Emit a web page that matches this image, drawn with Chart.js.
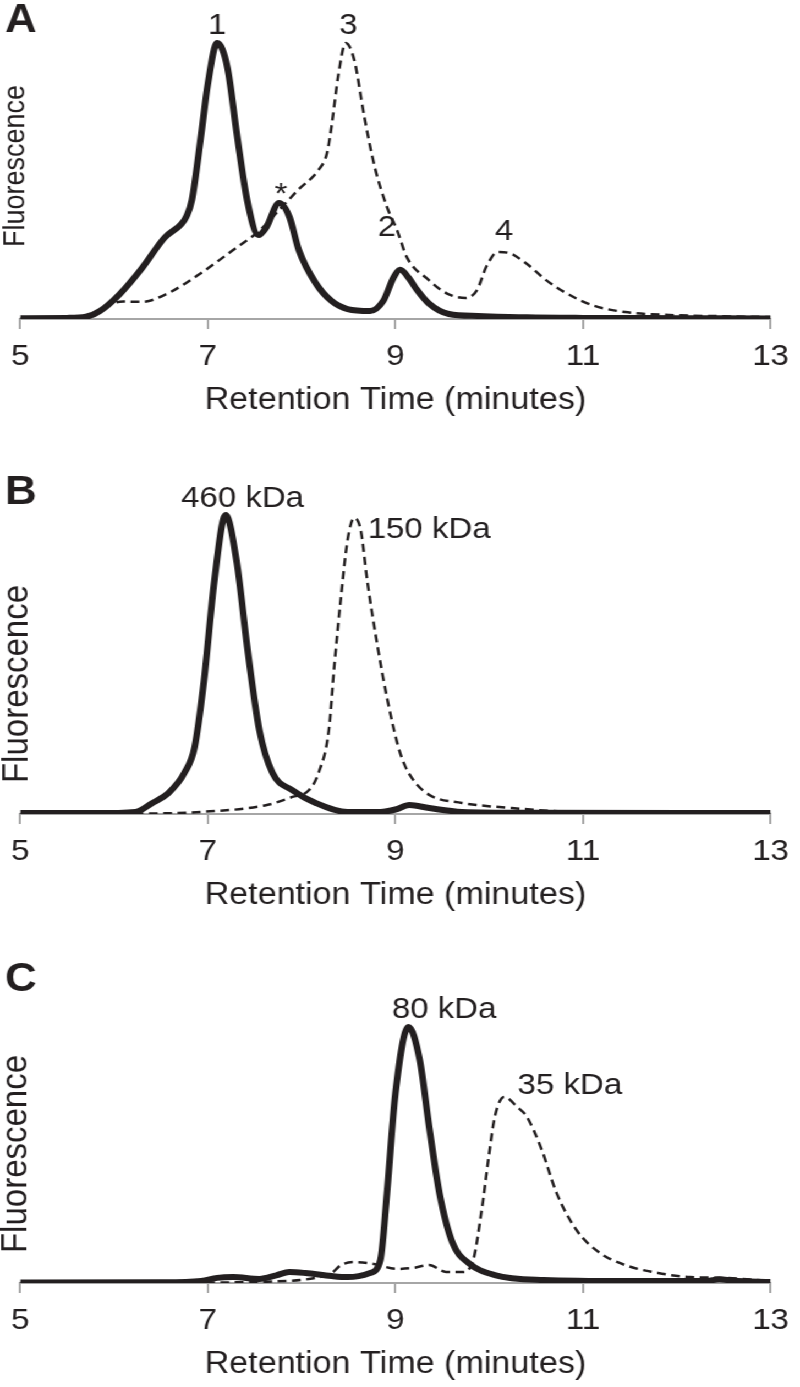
<!DOCTYPE html>
<html>
<head>
<meta charset="utf-8">
<script src="https://cdn.jsdelivr.net/npm/chart.js@4.4.1/dist/chart.umd.min.js"></script>
<style>
html, body { margin: 0; padding: 0; background: #fff; }
#wrap { position: relative; width: 727px; height: 1387px; transform: scaleX(1.1004); transform-origin: 0 0; }
canvas { position: absolute; left: 0; }
</style>
</head>
<body>
<div id="wrap">
  <canvas id="chartA" width="727" height="419" style="top:0px"></canvas>
  <canvas id="chartB" width="727" height="474" style="top:440px"></canvas>
  <canvas id="chartC" width="727" height="463" style="top:920px"></canvas>
</div>
<script>
// tick labels of the retention time axis
const timeTicks = [5, 7, 9, 11, 13];

// Panel A
const timeA_solid = [5.0, 5.5, 5.7, 5.85, 6.06, 6.30, 6.54, 6.72, 6.77, 6.83, 6.93, 7.0, 7.10, 7.21, 7.31, 7.42, 7.54, 7.62, 7.76, 7.87, 7.97, 8.15, 8.32, 8.49, 8.73, 8.87, 8.98, 9.05, 9.14, 9.22, 9.36, 9.57, 9.88, 10.4, 11.0, 12.0, 13.0];
const solidA = [0.3, 0.4, 0.8, 2.9, 9, 18.5, 29.5, 34.5, 37, 43, 67, 85, 100, 91, 67, 43, 30.4, 33, 42, 37, 25, 13, 6.5, 3.6, 2.9, 6.5, 15, 17.8, 15, 11, 5.5, 1.8, 1.1, 0.6, 0.4, 0.3, 0.2];
const timeA_dash = [5.0, 5.5, 5.7, 5.85, 5.95, 6.1, 6.3, 6.58, 6.93, 7.27, 7.55, 7.76, 7.97, 8.18, 8.27, 8.32, 8.39, 8.47, 8.56, 8.67, 8.78, 8.91, 9.02, 9.12, 9.36, 9.54, 9.75, 9.87, 9.97, 10.09, 10.2, 10.4, 10.61, 10.82, 11.1, 11.45, 11.97, 12.5, 13.0];
const dashA = [0.2, 0.4, 1.0, 3, 5.2, 6.3, 6.2, 9.4, 16.7, 25, 32, 39.5, 47, 54, 60, 70, 88, 100, 94, 73, 55, 40.6, 32, 22.5, 14, 9.4, 7.6, 10.5, 19, 24.3, 24, 20, 14, 9.4, 5, 2.5, 1.4, 1, 0.7];
const peakTextA = ['1', '3', '*', '2', '4'];
const peakTimeA = [7.10, 8.50, 7.78, 8.91, 10.16];
const peakValA = [106.3, 106.3, 45, 33, 31.5];

// Panel B
const timeB_solid = [5.0, 5.8, 6.23, 6.41, 6.58, 6.75, 6.86, 6.96, 7.07, 7.19, 7.31, 7.42, 7.55, 7.69, 7.90, 8.15, 8.49, 8.84, 9.0, 9.15, 9.36, 9.71, 10.5, 13.0];
const solidB = [0.3, 0.3, 0.7, 3.7, 7, 13.7, 22.4, 44.8, 78, 100, 84, 56, 28, 13.7, 8, 3.7, 0.7, 0.7, 1.5, 3, 2, 0.7, 0.4, 0.3];
const timeB_dash = [5.0, 6.17, 6.93, 7.63, 7.9, 8.08, 8.18, 8.29, 8.35, 8.42, 8.49, 8.56, 8.63, 8.70, 8.81, 8.91, 9.02, 9.09, 9.19, 9.36, 9.71, 10.24, 10.93, 13.0];
const dashB = [0, 0.1, 0.7, 3, 5.7, 8, 13.7, 28, 50, 72.6, 91.6, 99, 95, 78, 56, 39, 23.7, 17, 11.4, 6.4, 3.7, 2, 0.7, 0.3];
const peakTextB = ['460 kDa', '150 kDa'];
const peakTimeB = [7.37, 9.36];
const peakValB = [105.4, 95];

// Panel C
const timeC_solid = [5.0, 6.5, 6.93, 7.1, 7.27, 7.55, 7.73, 7.87, 8.04, 8.32, 8.49, 8.73, 8.84, 8.91, 9.0, 9.14, 9.26, 9.36, 9.47, 9.61, 9.78, 10.06, 10.58, 11.45, 12.32, 12.45, 12.6, 13.0];
const solidC = [0.2, 0.3, 0.8, 2, 2.3, 1.6, 3, 4.3, 3.9, 2.7, 2.3, 3.9, 9, 35, 74, 100, 87, 61, 35, 15.6, 7.8, 3.1, 1.2, 0.8, 0.8, 1.5, 0.9, 0.4];
const timeC_dash = [5.0, 7.0, 7.63, 8.15, 8.32, 8.42, 8.56, 8.77, 9.02, 9.19, 9.36, 9.54, 9.71, 9.82, 9.92, 9.99, 10.06, 10.16, 10.30, 10.40, 10.55, 10.72, 10.93, 11.17, 11.45, 11.8, 12.14, 12.49, 13.0];
const dashC = [0, 0.2, 0.5, 2, 3.9, 7, 8.2, 7.4, 5.5, 5.9, 7, 4.3, 4.3, 7.8, 28.5, 48, 65, 72.7, 68.7, 65, 53, 35, 20.7, 12, 7, 3.9, 2.3, 2, 0.8];
const peakTextC = ['80 kDa', '35 kDa'];
const peakTimeC = [9.52, 10.86];
const peakValC = [106.6, 77];

const ink = '#231f20';
const axisGray = '#a6a6a6';
const family = '"Liberation Sans", Arial, sans-serif';

Chart.defaults.font.family = family;
Chart.defaults.color = ink;

// panel letter, peak labels and the rotated y title
const annotate = {
    id: 'annotate',
    afterDraw(chart, args, opts) {
        const { ctx } = chart;
        const x = chart.scales.x, y = chart.scales.y;
        ctx.save();
        ctx.fillStyle = ink;
        ctx.textAlign = 'center';
        ctx.textBaseline = 'middle';
        ctx.font = 'bold 40px ' + family;
        ctx.fillText(opts.letter, 19, opts.letterY);
        ctx.font = '30px ' + family;
        opts.texts.forEach((t, i) => {
            ctx.fillText(t, x.getPixelForValue(opts.times[i]), y.getPixelForValue(opts.values[i]));
        });
        ctx.translate(opts.titleX, opts.titleY);
        ctx.rotate(-Math.PI / 2);
        ctx.font = opts.titleSize + 'px ' + family;
        ctx.fillText('Fluorescence', 0, 0);
        ctx.restore();
    }
};

function toPoints(times, values) {
    return times.map((t, i) => ({ x: t, y: values[i] }));
}

function makeChart(id, solidT, solidV, dashT, dashV, padTop, annot) {
    const ctx = document.getElementById(id).getContext('2d');
    return new Chart(ctx, {
        type: 'line',
        data: {
            datasets: [{
                data: toPoints(solidT, solidV),
                borderColor: ink,
                borderWidth: 6,
                pointRadius: 0,
                cubicInterpolationMode: 'monotone',
                fill: false
            }, {
                data: toPoints(dashT, dashV),
                borderColor: ink,
                borderWidth: 2.5,
                borderDash: [8, 5],
                pointRadius: 0,
                cubicInterpolationMode: 'monotone',
                fill: false
            }]
        },
        options: {
            responsive: false,
            animation: false,
            layout: { padding: { left: 13.63, right: 16.35, top: padTop, bottom: 0 } },
            plugins: { legend: { display: false }, tooltip: { enabled: false }, annotate: annot },
            scales: {
                x: {
                    type: 'linear',
                    min: timeTicks[0],
                    max: timeTicks[timeTicks.length - 1],
                    afterBuildTicks: scale => { scale.ticks = timeTicks.map(v => ({ value: v })); },
                    afterFit: scale => { scale.height = 100; },
                    ticks: { font: { size: 30 }, color: ink, padding: 10, maxRotation: 0 },
                    grid: { drawOnChartArea: false, drawTicks: true, tickLength: 10, color: axisGray, lineWidth: 2 },
                    border: { display: true, color: axisGray, width: 2 },
                    title: { display: true, text: 'Retention Time (minutes)', font: { size: 31 }, color: ink, padding: { top: 0, bottom: 0 } }
                },
                y: { display: false, min: 0, max: 110 }
            }
        },
        plugins: [annotate]
    });
}

window.onload = function() {
    makeChart('chartA', timeA_solid, solidA, timeA_dash, dashA, 15.4, {
        letter: 'A', letterY: 21, texts: peakTextA, times: peakTimeA, values: peakValA,
        titleX: 15, titleY: 166, titleSize: 27
    });
    makeChart('chartB', timeB_solid, solidB, timeB_dash, dashB, 45.1, {
        letter: 'B', letterY: 53, texts: peakTextB, times: peakTimeB, values: peakValB,
        titleX: 16, titleY: 244, titleSize: 33
    });
    makeChart('chartC', timeC_solid, solidC, timeC_dash, dashC, 81.4, {
        letter: 'C', letterY: 60, texts: peakTextC, times: peakTimeC, values: peakValC,
        titleX: 15, titleY: 234, titleSize: 33
    });
};
</script>
</body>
</html>
